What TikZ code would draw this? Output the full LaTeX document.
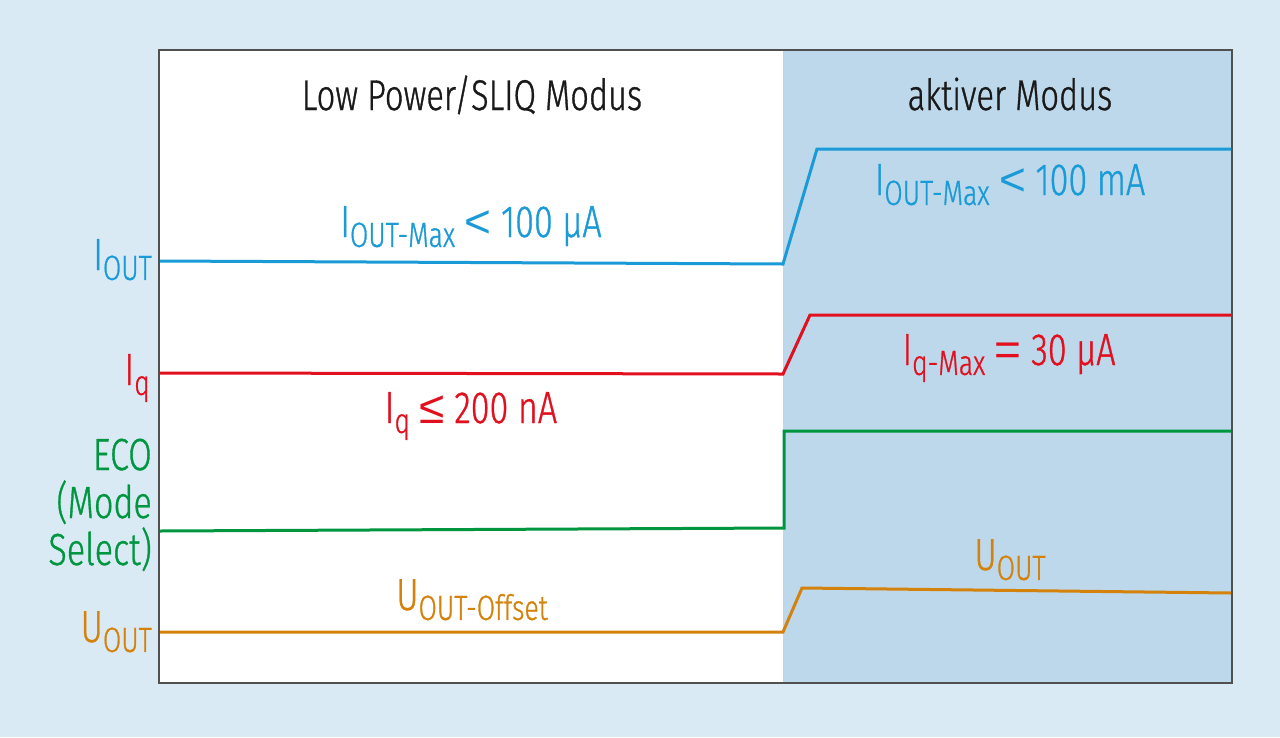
\documentclass[tikz,border=0pt]{standalone}
\usepackage{fontspec}
\setmainfont[FakeStretch=0.76,FakeBold=0.8]{Fira Sans Light}
\newfontfamily\relfont{Liberation Sans}
\definecolor{outerbg}{RGB}{218,234,245}
\definecolor{activebg}{RGB}{188,216,234}
\definecolor{frame}{RGB}{80,80,80}
\definecolor{cblue}{RGB}{26,154,215}
\definecolor{cred}{RGB}{226,16,30}
\definecolor{cgreen}{RGB}{0,150,64}
\definecolor{corange}{RGB}{212,130,12}
\newcommand{\sbs}[1]{\raisebox{-0.22em}{\fontsize{35}{40}\selectfont #1}}
\newcommand{\rel}[1]{{\relfont\fontsize{46}{50}\selectfont #1}}
\tikzset{
  lbl/.style={inner sep=0pt, font=\fontsize{45}{50}\selectfont},
  ttl/.style={inner sep=0pt, font=\fontsize{43}{48}\selectfont, text=black!90},
  sig/.style={line width=3pt, line join=miter},
}
\begin{document}
\begin{tikzpicture}[x=1pt,y=-1pt]
\fill[outerbg] (0,0) rectangle (1280,737);
\useasboundingbox (0,0) rectangle (1280,737);
\fill[white] (159,50) rectangle (783,683);
\fill[activebg] (783,50) rectangle (1232,683);
\draw[frame, line width=2pt] (159,50) rectangle (1232,683);
% titles
\node[ttl, anchor=base] (tlow) at (472,110) {Low Power/SLIQ Modus};
\node[ttl, anchor=base] (tact) at (1010,110) {aktiver Modus};
% signals
\draw[sig, cblue] (160,261) -- (783,264) -- (817,149) -- (1231,149);
\draw[sig, cred] (160,373) -- (783,374) -- (810,315) -- (1231,315);
\draw[sig, cgreen] (160,531) -- (784,528) -- (784,431) -- (1231,431);
\draw[sig, corange] (160,632) -- (783,632) -- (802,588) -- (1231,593);
% left labels
\node[lbl, text=cblue, anchor=base east] (liout) at (152,270) {I\sbs{OUT}};
\node[lbl, text=cred, anchor=base east] (liq) at (150,385) {I\sbs{q}};
\node[lbl, text=cgreen, anchor=base east] (leco) at (152,470) {ECO};
\node[lbl, text=cgreen, anchor=base east] (lmode) at (152,518) {(Mode};
\node[lbl, text=cgreen, anchor=base east] (lsel) at (152,565) {Select)};
\node[lbl, text=corange, anchor=base east] (luout) at (152,642) {U\sbs{OUT}};
% value labels
\node[lbl, text=cblue, anchor=base] (viout1) at (471,237) {I\sbs{OUT-Max} \rel{<} 100 µA};
\node[lbl, text=cblue, anchor=base] (viout2) at (1010,195) {I\sbs{OUT-Max} \rel{<} 100 mA};
\node[lbl, text=cred, anchor=base] (viq1) at (471,423) {I\sbs{q} \rel{≤} 200 nA};
\node[lbl, text=cred, anchor=base] (viq2) at (1009,365) {I\sbs{q-Max} \rel{=} 30 µA};
\node[lbl, text=corange, anchor=base] (vu1) at (472,610) {U\sbs{OUT-Offset}};
\node[lbl, text=corange, anchor=base] (vu2) at (1010,570) {U\sbs{OUT}};
\end{tikzpicture}
\end{document}
